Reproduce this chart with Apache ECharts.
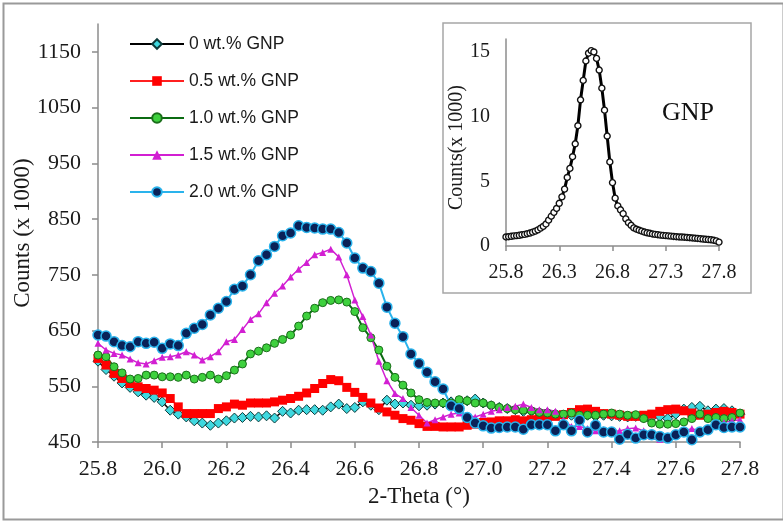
<!DOCTYPE html>
<html><head><meta charset="utf-8">
<script src="https://cdn.jsdelivr.net/npm/echarts@6/dist/echarts.min.js"></script>
<style>html,body{margin:0;padding:0;background:#fff}#c{width:783px;height:521px}</style>
</head><body><div id="c"></div>
<script>
const theta = [25.800,25.825,25.850,25.875,25.900,25.925,25.950,25.975,26.000,26.025,26.050,26.075,26.100,26.125,26.150,26.175,26.200,26.225,26.250,26.275,26.300,26.325,26.350,26.375,26.400,26.425,26.450,26.475,26.500,26.525,26.550,26.575,26.600,26.625,26.650,26.675,26.700,26.725,26.750,26.775,26.800,26.825,26.850,26.875,26.900,26.925,26.950,26.975,27.000,27.025,27.050,27.075,27.100,27.125,27.150,27.175,27.200,27.225,27.250,27.275,27.300,27.325,27.350,27.375,27.400,27.425,27.450,27.475,27.500,27.525,27.550,27.575,27.600,27.625,27.650,27.675,27.700,27.725,27.750,27.775,27.800];
const seriesNames = ['0 wt.% GNP','0.5 wt.% GNP','1.0 wt.% GNP','1.5 wt.% GNP','2.0 wt.% GNP'];
const mainXTicks = [25.8,26.0,26.2,26.4,26.6,26.8,27.0,27.2,27.4,27.6,27.8];
const mainYTicks = [450,550,650,750,850,950,1050,1150];
const insetXTicks = [25.8,26.3,26.8,27.3,27.8];
const insetYTicks = [0,5,10,15];

const gnp0 = [595,580,568,556,548,540,534,530,522,507,500,495,488,484,480,484,488,493,494,496,495,497,493,505,502,507,508,508,507,513,518,510,512,522,516,508,525,518,520,516,515,516,518,520,522,520,524,527,520,515,512,510,508,505,505,503,502,500,498,498,500,498,496,498,497,496,495,496,494,494,496,492,500,509,512,514,506,509,510,506,500];
const gnp05 = [600,588,573,564,555,549,546,543,538,528,513,501,501,501,501,510,513,518,516,520,520,520,522,525,528,532,538,546,555,562,560,548,539,530,520,511,504,498,492,489,483,478,478,477,477,477,480,482,485,486,488,488,490,488,490,492,494,496,499,503,508,509,505,501,500,498,496,496,498,500,505,508,509,506,502,498,500,503,505,503,500];
const gnp10 = [606,603,585,574,563,564,570,570,567,567,566,570,563,566,570,563,569,579,590,608,613,619,627,634,642,658,676,690,700,704,705,701,684,655,637,615,586,566,552,538,526,521,520,520,520,526,524,520,520,516,512,510,508,507,506,503,502,500,500,502,498,498,498,500,502,500,498,499,492,484,482,482,483,486,492,500,492,494,492,494,502];
const gnp15 = [627,615,609,606,599,592,590,596,602,603,606,612,606,597,603,612,630,634,652,670,680,700,717,730,746,760,772,786,790,796,782,750,705,675,642,595,560,537,528,512,498,484,490,495,500,502,498,495,500,505,508,512,514,518,512,508,508,505,490,478,478,474,470,472,468,470,474,475,470,460,455,456,462,470,474,470,475,480,485,488,490];
const gnp20 = [642,640,630,623,621,630,627,629,618,626,623,645,654,661,678,690,702,724,730,750,775,786,801,820,825,838,835,834,832,832,826,807,780,762,756,735,692,663,639,608,591,575,558,545,515,510,494,484,479,475,476,477,477,473,481,481,481,470,481,470,489,468,480,468,468,455,464,457,463,463,460,457,463,468,454,468,472,481,476,477,477];
const gnpPure = [0.70,0.72,0.75,0.78,0.80,0.83,0.87,0.90,0.95,1.00,1.07,1.15,1.25,1.38,1.52,1.70,2.00,2.30,2.60,2.90,3.30,3.80,4.40,5.30,6.00,6.90,7.90,9.30,11.30,12.80,14.30,14.90,15.10,15.00,14.50,13.60,12.20,10.50,8.50,6.50,4.90,3.70,3.10,2.80,2.50,2.10,1.80,1.60,1.40,1.30,1.22,1.15,1.08,1.02,0.98,0.93,0.90,0.87,0.84,0.82,0.80,0.78,0.76,0.74,0.72,0.70,0.69,0.68,0.66,0.64,0.62,0.60,0.58,0.56,0.54,0.52,0.50,0.48,0.45,0.40,0.30];

const pair = arr => theta.map((t, i) => [t, arr[i]]);
const serif = '"Liberation Serif", "Times New Roman", serif';
const sans = '"Liberation Sans", Arial, sans-serif';
const axisGray = '#8c8c8c';

const chart = echarts.init(document.getElementById('c'), null, {renderer: 'canvas'});
const mainStyles = [
  {data: gnp0, line: '#000000', lw: 1.5, sym: 'diamond', size: 10, fill: '#3fd8df', border: '#0c3a3a', bw: 1},
  {data: gnp05, line: '#ff2020', lw: 1.5, sym: 'rect', size: 9, fill: '#ff0000', border: '#ff0000', bw: 0},
  {data: gnp10, line: '#0b6b12', lw: 2, sym: 'circle', size: 8, fill: '#3ed13e', border: '#1b6e1b', bw: 1},
  {data: gnp15, line: '#d21fd2', lw: 1.5, sym: 'triangle', size: 7, fill: '#d21fd2', border: '#d21fd2', bw: 0},
  {data: gnp20, line: '#2ab3ec', lw: 2, sym: 'circle', size: 10, fill: '#0a2258', border: '#2ab3ec', bw: 1.5}
];
const series = mainStyles.map((s, k) => ({
  name: seriesNames[k], type: 'line', xAxisIndex: 0, yAxisIndex: 0,
  data: pair(s.data), symbol: s.sym, symbolSize: s.size, showAllSymbol: true,
  lineStyle: {color: s.line, width: s.lw},
  itemStyle: {color: s.fill, borderColor: s.border, borderWidth: s.bw},
  emphasis: {disabled: true}, z: 3
}));
series.push({
  name: 'GNP', type: 'line', xAxisIndex: 1, yAxisIndex: 1,
  data: pair(gnpPure), symbol: 'circle', symbolSize: 6, showAllSymbol: true,
  lineStyle: {color: '#000', width: 3},
  itemStyle: {color: '#fff', borderColor: '#111', borderWidth: 1.4},
  emphasis: {disabled: true}, z: 6
});

const option = {
  animation: false,
  backgroundColor: '#fff',
  grid: [
    {left: 98, top: 24, width: 642, height: 418, containLabel: false, outerBoundsMode: 'none'},
    {left: 506, top: 39, width: 213, height: 207, containLabel: false, outerBoundsMode: 'none', z: 5}
  ],
  xAxis: [
    {type: 'value', gridIndex: 0, min: 25.8, max: 27.8,
     name: '2-Theta (°)', nameLocation: 'middle', nameGap: 43, nameMoveOverlap: false,
     nameTextStyle: {fontFamily: serif, fontSize: 23, color: '#1a1a1a'},
     axisLine: {lineStyle: {color: axisGray, width: 1.5}},
     axisTick: {show: true, length: 6, customValues: mainXTicks, lineStyle: {color: axisGray, width: 1.5}},
     axisLabel: {customValues: mainXTicks, formatter: v => v.toFixed(1), fontFamily: serif, fontSize: 22, color: '#1a1a1a', margin: 16},
     splitLine: {show: false}},
    {type: 'value', gridIndex: 1, min: 25.8, max: 27.8, z: 6,
     axisLine: {lineStyle: {color: axisGray, width: 1.5}},
     axisTick: {show: true, length: 5, customValues: insetXTicks, lineStyle: {color: axisGray, width: 1.5}},
     axisLabel: {customValues: insetXTicks, formatter: v => v.toFixed(1), fontFamily: serif, fontSize: 20, color: '#1a1a1a', margin: 17},
     splitLine: {show: false}}
  ],
  yAxis: [
    {type: 'value', gridIndex: 0, min: 450, max: 1200,
     name: 'Counts (x 1000)', nameLocation: 'middle', nameGap: 64, nameMoveOverlap: false,
     nameTextStyle: {fontFamily: serif, fontSize: 23, color: '#1a1a1a'},
     axisLine: {show: true, lineStyle: {color: axisGray, width: 1.5}},
     axisTick: {show: true, length: 6, customValues: mainYTicks, lineStyle: {color: axisGray, width: 1.5}},
     axisLabel: {customValues: mainYTicks, formatter: v => String(v), fontFamily: serif, fontSize: 22, color: '#1a1a1a', margin: 17},
     splitLine: {show: false}},
    {type: 'value', gridIndex: 1, min: 0, max: 16, z: 6,
     name: 'Counts(x 1000)', nameLocation: 'middle', nameGap: 39, nameMoveOverlap: false,
     nameTextStyle: {fontFamily: serif, fontSize: 20, color: '#1a1a1a', padding: [0, 10, 0, 0]},
     axisLine: {show: true, lineStyle: {color: axisGray, width: 1.5}},
     axisTick: {show: false},
     axisLabel: {customValues: insetYTicks, formatter: v => String(v), fontFamily: serif, fontSize: 20, color: '#1a1a1a', margin: 16},
     splitLine: {show: false}}
  ],
  legend: {
    data: seriesNames, orient: 'vertical', left: 129, top: 34, padding: 0,
    itemWidth: 54, itemHeight: 12, itemGap: 17,
    textStyle: {fontFamily: sans, fontSize: 17.5, color: '#1a1a1a', lineHeight: 20},
    selectedMode: false
  },
  graphic: [
    {type: 'rect', left: 1, top: 1, shape: {x: 0, y: 0, width: 780, height: 516}, z: -10,
     style: {fill: 'none', stroke: '#9a9a9a', lineWidth: 2}, silent: true},
    {type: 'rect', x: 443, y: 23, shape: {x: 0, y: 0, width: 308, height: 270}, z: 1,
     style: {fill: '#fff', stroke: '#a6a6a6', lineWidth: 1.5}, silent: true},
    {type: 'text', x: 688, y: 113, z: 10, silent: true,
     style: {text: 'GNP', fontFamily: serif, fontSize: 26, fill: '#111', align: 'center', verticalAlign: 'middle'}}
  ],
  series: series
};
chart.setOption(option);
</script>
</body></html>
